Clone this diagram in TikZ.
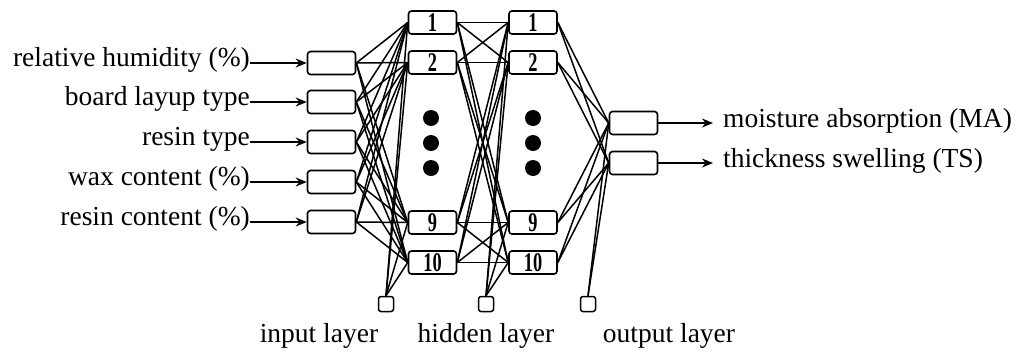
\documentclass[tikz,border=0pt]{standalone}
\usepackage{fontspec}
\setmainfont{Liberation Serif}
\usetikzlibrary{arrows.meta}
\begin{document}
\begin{tikzpicture}[x=1pt,y=-1pt,
 box/.style={draw,line width=1.6pt,rounded corners=3pt,minimum width=48pt,minimum height=23pt,inner sep=0pt},
 biasbox/.style={draw,line width=1.5pt,rounded corners=2.5pt,minimum width=15pt,minimum height=15pt,inner sep=0pt},
 lbl/.style={font=\fontsize{27.5}{30}\selectfont,inner sep=0pt},
 conn/.style={line width=1.5pt},
 arr/.style={line width=1.6pt,-{Stealth[length=11pt,width=9pt]}},
 dot/.style={circle,fill,inner sep=0pt,minimum size=16pt}
]
\useasboundingbox (0,0) rectangle (1018,354);
\newcommand{\nlab}[1]{\raisebox{-0.5pt}{\scalebox{0.68}[1]{\fontsize{27}{27}\selectfont\bfseries #1}}}
% input boxes
\foreach \i/\y in {1/63,2/102,3/142,4/182,5/222}{
  \node[box] (in\i) at (331.5,\y) {};
}
% hidden layers
\foreach \j/\y in {1/22.5,2/62.5,9/222.5,10/262.5}{
  \node[box] (ha\j) at (432.5,\y) {\nlab{\j}};
  \node[box] (hb\j) at (533,\y) {\nlab{\j}};
}
% outputs
\node[box] (o1) at (633.5,123) {};
\node[box] (o2) at (633.5,163) {};
% bias
\node[biasbox] (b1) at (386,304) {};
\node[biasbox] (b2) at (486,304) {};
\node[biasbox] (b3) at (588,304) {};
% dots
\foreach \y [count=\k] in {118,143,168}{
  \node[dot] (da\k) at (431,\y) {};
  \node[dot] (db\k) at (533,\y) {};
}
% input labels
\node[lbl,anchor=base east] (l1) at (250,66) {relative humidity (\%)};
\node[lbl,anchor=base east] (l2) at (250,105) {board layup type};
\node[lbl,anchor=base east] (l3) at (250,145) {resin type};
\node[lbl,anchor=base east] (l4) at (250,185) {wax content (\%)};
\node[lbl,anchor=base east] (l5) at (250,225) {resin content (\%)};
\foreach \i/\y in {1/63,2/102,3/142,4/182,5/222}{
  \coordinate (s\i) at (250,\y);
  \draw[arr] (s\i) -- (in\i.west);
}
% connections
\foreach \i in {1,...,5}{
  \foreach \j in {1,2,9,10}{
    \draw[conn] (in\i.east) -- (ha\j.west);
  }
}
\foreach \j in {1,2,9,10}{
  \draw[conn] (b1.north) -- (ha\j.west);
  \draw[conn] (b2.north) -- (hb\j.west);
  \foreach \k in {1,2,9,10}{
    \draw[conn] (ha\j.east) -- (hb\k.west);
  }
  \draw[conn] (hb\j.east) -- (o1.west);
  \draw[conn] (hb\j.east) -- (o2.west);
}
\draw[conn] (b3.north) -- (o1.west);
\draw[conn] (b3.north) -- (o2.west);
% output labels
\coordinate (e1) at (713,123);
\coordinate (e2) at (713,163);
\draw[arr] (o1.east) -- (e1);
\draw[arr] (o2.east) -- (e2);
\node[lbl,anchor=base west] (t1) at (723,127) {moisture absorption (MA)};
\node[lbl,anchor=base west] (t2) at (723,167) {thickness swelling (TS)};
% layer labels
\node[lbl,anchor=base] (n1) at (319,342) {input layer};
\node[lbl,anchor=base] (n2) at (486,342) {hidden layer};
\node[lbl,anchor=base] (n3) at (669,342) {output layer};
\end{tikzpicture}
\end{document}
